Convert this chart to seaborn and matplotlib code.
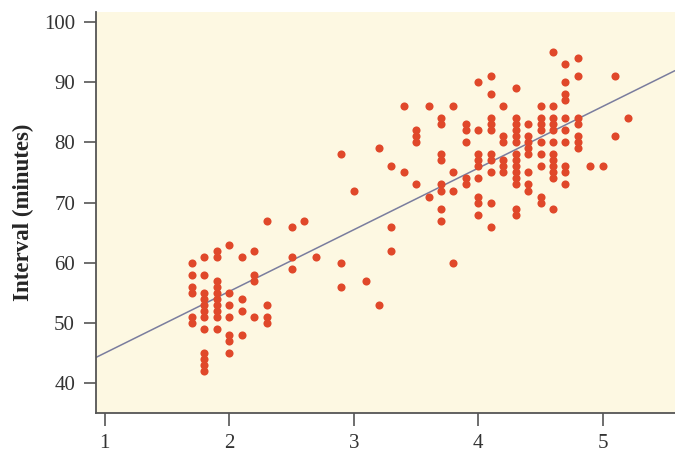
import numpy as np
import pandas as pd
import matplotlib
matplotlib.use("Agg")
import matplotlib.pyplot as plt
import seaborn as sns

# eruption duration (minutes) and the intervals observed at each duration
durations = [1.7, 1.8, 1.9, 2.0, 2.1, 2.2, 2.3, 2.5, 2.6, 2.7, 2.9, 3.0, 3.1,
             3.2, 3.3, 3.4, 3.5, 3.6, 3.7, 3.8, 3.9, 4.0, 4.1, 4.2, 4.3, 4.4,
             4.5, 4.6, 4.7, 4.8, 4.9, 5.0, 5.1, 5.2]
intervals = [
    [60, 58, 56, 55, 51, 50],
    [61, 58, 55, 54, 53, 52, 51, 49, 45, 44, 43, 42],
    [62, 61, 57, 56, 55, 54, 53, 52, 51, 49],
    [63, 55, 53, 51, 48, 47, 45],
    [61, 54, 52, 48],
    [62, 58, 57, 51],
    [67, 53, 51, 50],
    [66, 61, 59],
    [67],
    [61],
    [78, 60, 56],
    [72],
    [57],
    [79, 53],
    [76, 66, 62],
    [86, 75],
    [82, 81, 80, 73],
    [86, 71],
    [84, 83, 78, 77, 73, 72, 69, 67],
    [86, 75, 72, 60],
    [83, 82, 80, 74, 73],
    [90, 82, 78, 77, 76, 74, 71, 70, 68],
    [91, 88, 84, 83, 82, 78, 77, 75, 70, 66],
    [86, 81, 80, 77, 76, 75],
    [89, 84, 83, 82, 81, 80, 78, 77, 76, 75, 74, 73, 69, 68],
    [83, 81, 80, 79, 78, 75, 73, 72],
    [86, 84, 83, 82, 80, 78, 76, 71, 70],
    [95, 86, 84, 83, 82, 80, 78, 77, 76, 75, 74, 69],
    [93, 90, 88, 87, 84, 82, 80, 76, 75, 73],
    [94, 91, 84, 83, 81, 80, 79],
    [76],
    [76],
    [91, 81],
    [84],
]
xticks = [1, 2, 3, 4, 5]
yticks = [40, 50, 60, 70, 80, 90, 100]

df = pd.DataFrame({
    "Duration": np.repeat(durations, [len(v) for v in intervals]),
    "Interval": np.concatenate(intervals),
})

sns.set_style("ticks")
plt.rcParams['font.family'] = ['Liberation Serif', 'DejaVu Serif']

fig = plt.figure(figsize=(6.75, 4.54), dpi=100)
ax = fig.add_axes([0.142, 0.09, 0.858, 0.884])
ax.set_facecolor("#fdf8e2")

ax.set_xlim(0.928, 5.58)
ax.set_ylim(35, 101.7)

sns.scatterplot(data=df, x="Duration", y="Interval", ax=ax, color="#e0482a",
                s=34, linewidth=0, zorder=3)
# least squares line across the whole axis
sns.regplot(data=df, x="Duration", y="Interval", ax=ax, scatter=False,
            ci=None, truncate=False, color="#7a7d9e",
            line_kws={"linewidth": 1.1, "zorder": 2})

ax.set_xlim(0.928, 5.58)
ax.set_ylim(35, 101.7)
ax.set_xticks(xticks)
ax.set_yticks(yticks)
ax.set_xlabel("")
ax.set_ylabel("Interval (minutes)", fontsize=16.5, fontweight="bold", labelpad=7)

for side in ["top", "right"]:
    ax.spines[side].set_visible(False)
for side in ["left", "bottom"]:
    ax.spines[side].set_color("#555555")
    ax.spines[side].set_linewidth(1.3)
ax.tick_params(axis="both", length=9, width=1.2, color="#555555",
               labelsize=15, labelcolor="#333333")
ax.tick_params(axis="y", pad=6)
ax.tick_params(axis="x", pad=6)

fig.savefig("out.png", dpi=100)
